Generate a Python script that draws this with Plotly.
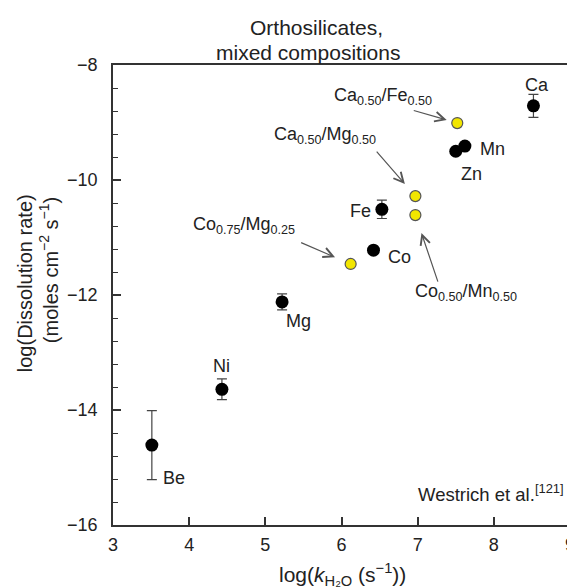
import plotly.graph_objects as go

# ---- data ----
pure_names = ["Be", "Ni", "Mg", "Co", "Fe", "Zn", "Mn", "Ca"]
pure_x = [3.51, 4.43, 5.22, 6.42, 6.53, 7.50, 7.62, 8.52]
pure_y = [-14.61, -13.64, -12.12, -11.22, -10.51, -9.50, -9.41, -8.71]
pure_err = [0.60, 0.18, 0.14, 0.0, 0.16, 0.0, 0.0, 0.20]

mixed_names = ["Co0.75/Mg0.25", "Ca0.50/Mg0.50", "Co0.50/Mn0.50", "Ca0.50/Fe0.50"]
mixed_labels = [
    "Co<sub>0.75</sub>/Mg<sub>0.25</sub>",
    "Ca<sub>0.50</sub>/Mg<sub>0.50</sub>",
    "Co<sub>0.50</sub>/Mn<sub>0.50</sub>",
    "Ca<sub>0.50</sub>/Fe<sub>0.50</sub>",
]
mixed_x = [6.12, 6.97, 6.97, 7.52]
mixed_y = [-11.46, -10.28, -10.61, -9.01]

title_lines = ["Orthosilicates,", "mixed compositions"]
ytitle_lines = ["log(Dissolution rate)", "(moles cm<sup>−2</sup> s<sup>−1</sup>)"]
xtitle = "log(<i>k</i><sub>H₂O</sub> (s<sup>−1</sup>))"
credit = "Westrich et al.<sup>[121]</sup>"

# ---- label placement (pixel offsets from each point) ----
pure_label_shift = {
    "Be": (22, -33), "Ni": (0, 23), "Mg": (16, -19), "Co": (26, -7),
    "Fe": (-21, -2), "Zn": (16, -23), "Mn": (28, -3), "Ca": (4, 21),
}
mixed_text_shift = {
    "Co0.75/Mg0.25": (-107, 38), "Ca0.50/Mg0.50": (-90, 61),
    "Co0.50/Mn0.50": (51, -77), "Ca0.50/Fe0.50": (-74, 27),
}
mixed_arrow = {  # tail offset (ax, ay) in px, standoff
    "Co0.75/Mg0.25": (-51, -22, 17), "Ca0.50/Mg0.50": (-40, -46, 16),
    "Co0.50/Mn0.50": (23, 68, 19), "Ca0.50/Fe0.50": (-45, -13, 11),
}

# plot area on the page (px): x 113..571, y 65..525 (page body has an 8px margin)
PL, PR, PT, PB = 113, 571, 65, 525
def px_x(sx):
    return (sx - PL) / (PR - PL)
def px_y(sy):
    return (PB - sy) / (PB - PT)

FONT = "Liberation Sans, Arial, sans-serif"
TXT = "#222222"
AX = "#333333"
fig = go.Figure()

fig.add_trace(go.Scatter(
    x=pure_x, y=pure_y, mode="markers",
    marker=dict(size=13, color="black"),
    error_y=dict(type="data", array=pure_err, visible=True,
                 color="#444444", thickness=1.2, width=5),
    showlegend=False,
))
fig.add_trace(go.Scatter(
    x=mixed_x, y=mixed_y, mode="markers",
    marker=dict(size=11, color="#f2e600", line=dict(color="#555555", width=1.2)),
    showlegend=False,
))

ann = []
for n, x, y in zip(pure_names, pure_x, pure_y):
    dx, dy = pure_label_shift[n]
    ann.append(dict(x=x, y=y, xref="x", yref="y", text=n, showarrow=False,
                    xanchor="center", yanchor="middle",
                    xshift=dx, yshift=dy, font=dict(size=18, color=TXT, family=FONT)))
for n, lab, x, y in zip(mixed_names, mixed_labels, mixed_x, mixed_y):
    dx, dy = mixed_text_shift[n]
    ann.append(dict(x=x, y=y, xref="x", yref="y", text=lab, showarrow=False,
                    xanchor="center", yanchor="middle",
                    xshift=dx, yshift=dy, font=dict(size=18, color=TXT, family=FONT)))
    ax, ay, so = mixed_arrow[n]
    ann.append(dict(x=x, y=y, xref="x", yref="y", text="", showarrow=True,
                    ax=ax, ay=ay, standoff=so, arrowhead=5, arrowsize=1.6,
                    arrowwidth=1.2, arrowcolor="#555555"))

ann.append(dict(xref="paper", yref="y", x=px_x(567), y=-15.44, xanchor="right",
                yanchor="middle", text=credit, showarrow=False,
                font=dict(size=18.5, color=TXT, family=FONT)))
for line, cx, cy in zip(title_lines, [317, 308], [27, 52]):
    ann.append(dict(xref="paper", yref="paper", x=px_x(cx), y=px_y(cy),
                    xanchor="center", yanchor="middle",
                    text=line, showarrow=False,
                    font=dict(size=21, color=TXT, family=FONT)))
for line, cx, cy in zip(ytitle_lines, [25, 48], [283, 270]):
    ann.append(dict(xref="paper", yref="paper", x=px_x(cx), y=px_y(cy),
                    xanchor="center", yanchor="middle",
                    textangle=-90, text=line, showarrow=False,
                    font=dict(size=20, color=TXT, family=FONT)))
ann.append(dict(xref="paper", yref="paper", x=px_x(343), y=px_y(574),
                xanchor="center", yanchor="middle",
                text=xtitle, showarrow=False,
                font=dict(size=21, color=TXT, family=FONT)))

fig.update_layout(
    width=567, height=579,
    margin=dict(l=PL - 8, r=575 - PR - 4, t=PT - 8, b=587 - PB - 0),
    paper_bgcolor="white", plot_bgcolor="white",
    font=dict(family=FONT, size=18, color=TXT),
    annotations=ann,
    showlegend=False,
)
fig.update_xaxes(range=[3, 9], tick0=3, dtick=1, ticks="inside", ticklen=8, tickwidth=1.5,
                 tickcolor=AX, showline=True, mirror=True, linecolor=AX,
                 linewidth=1.5, showgrid=False, zeroline=False,
                 tickfont=dict(size=18, color=TXT), ticklabelstandoff=3,
                 ticklabeloverflow="allow")
fig.update_yaxes(range=[-16, -8], tick0=-16, dtick=2, ticks="inside", ticklen=8, tickwidth=1.5,
                 tickcolor=AX, showline=True, mirror=True, linecolor=AX,
                 linewidth=1.5, showgrid=False, zeroline=False,
                 tickfont=dict(size=18, color=TXT), ticklabelstandoff=10,
                 minor=dict(dtick=0.4, ticks="inside", ticklen=5, tickwidth=1.2,
                            tickcolor=AX, showgrid=False))

fig.write_html("out.html")
